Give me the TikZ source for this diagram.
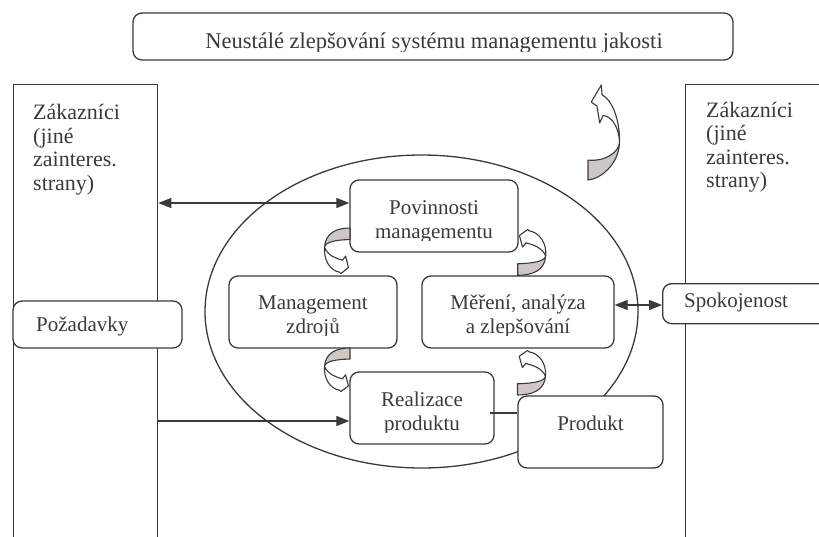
\documentclass[tikz,border=0pt]{standalone}
\usepackage{fontspec}
\setmainfont{Liberation Serif}
\usetikzlibrary{arrows.meta,shapes.geometric}
\definecolor{ink}{RGB}{58,58,58}
\definecolor{backside}{RGB}{205,199,197}

\tikzset{
  box/.style={draw=ink, line width=1.3pt, fill=white, rounded corners=9pt, inner sep=0pt},
  frame/.style={draw=ink, line width=1.3pt, inner sep=0pt, anchor=north west},
  txt/.style={text=ink, font=\fontsize{21}{24}\selectfont, inner sep=0pt, anchor=base},
  side/.style={text=ink, font=\fontsize{22}{24}\selectfont, inner sep=0pt, anchor=base west},
  link/.style={draw=ink, line width=1.2pt},
  head/.style={-{Triangle[length=13pt,width=10pt]}},
  heads/.style={{Triangle[length=13pt,width=10pt]}-{Triangle[length=13pt,width=10pt]}},
  ribbon/.style={draw=ink, line width=1.1pt, line join=round},
  % tall curved ribbon arrow in a unit box: tail at (0,0), head at the top
  curl/.pic={
    \filldraw[ribbon, fill=backside]
      (0.984,-0.40) .. controls (0.984,-0.295) and (0.53,-0.19) .. (0,-0.21)
      -- (0,0) .. controls (0.375,-0.01) and (0.97,-0.16) .. cycle;
    \filldraw[ribbon, fill=white]
      (0.984,-0.40) .. controls (1.0,-0.63) and (0.75,-0.85) .. (0.44,-0.895)
      -- (0.415,-1.0) -- (0.10,-0.82) -- (0.28,-0.78) -- (0.365,-0.60) -- (0.47,-0.68)
      .. controls (0.75,-0.67) and (0.97,-0.55) .. cycle;
  },
  % short curved ribbon arrow, head turned back towards the tail side
  twist/.pic={
    \filldraw[ribbon, fill=backside]
      (0.98,-0.42) .. controls (0.95,-0.30) and (0.55,-0.26) .. (0,-0.25)
      -- (0,0) .. controls (0.5,0) and (0.95,-0.10) .. cycle;
    \filldraw[ribbon, fill=white]
      (0.98,-0.42) .. controls (1.02,-0.70) and (0.75,-0.93) .. (0.40,-0.96)
      -- (0.35,-0.99) -- (0.06,-0.86) -- (0.17,-0.61) -- (0.29,-0.70)
      .. controls (0.55,-0.66) and (0.85,-0.60) .. cycle;
  }
}

\begin{document}
\begin{tikzpicture}[x=1pt, y=-1pt]
\clip (0,0) rectangle (819,536);

% customers on both sides
\node[frame, minimum width=144pt, minimum height=480pt] (custL) at (13,84) {};
\node[frame, minimum width=160pt, minimum height=480pt] (custR) at (685,84) {};
\node[side] (cl1) at (33,119.5) {Zákazníci};
\node[side] (cl2) at (33,143) {(jiné};
\node[side] (cl3) at (33,166.5) {zainteres.};
\node[side] (cl4) at (33,190) {strany)};
\node[side] (cr1) at (706,117) {Zákazníci};
\node[side] (cr2) at (706,140.5) {(jiné};
\node[side] (cr3) at (706,164) {zainteres.};
\node[side] (cr4) at (706,187.5) {strany)};

% process cycle
\node[draw=ink, line width=1.3pt, ellipse, minimum width=433pt, minimum height=313pt, inner sep=0pt] (cycle) at (421.5,311.5) {};

% boxes
\node[box, minimum width=600pt, minimum height=47pt] (top) at (433,36.5) {};
\node[box, minimum width=169pt, minimum height=47pt] (req) at (97.5,324.5) {};
\node[box, minimum width=180pt, minimum height=40pt, anchor=north west] (sat) at (662,283) {};
\node[box, minimum width=168pt, minimum height=72pt] (pov) at (434,216) {};
\node[box, minimum width=168pt, minimum height=72pt] (res) at (313,312) {};
\node[box, minimum width=192pt, minimum height=72pt] (mer) at (518,312) {};
\node[box, minimum width=144pt, minimum height=72pt] (real) at (422,408) {};
\node[box, minimum width=145pt, minimum height=72pt] (prod) at (590.5,432) {};

% connectors
\coordinate (yPov) at (0,203);
\coordinate (yReal) at (0,421);
\coordinate (ySat) at (0,305);
\coordinate (yProd) at (490,413);
\draw[link, heads] (custL.east |- yPov) -- (pov.west |- yPov);
\draw[link, head] (custL.east |- yReal) -- (real.west |- yReal);
\draw[link, heads] (mer.east |- ySat) -- (sat.west |- ySat);
\draw[link] (yProd) -- (yProd -| prod.west);

% labels
\node[txt] (reqT) at (36,331) [anchor=base west] {Požadavky};
\node[txt] (satT) at (684,307) [anchor=base west] {Spokojenost};
\node[txt] (prodT) at (590.5,430) {Produkt};
\begin{scope}
  \clip (130,0) rectangle (740,51);
  \node[txt, font=\fontsize{22.5}{26}\selectfont] (topT) at (434,48) {Neustálé zlepšování systému managementu jakosti};
\end{scope}
\begin{scope}
  \clip (340,180) rectangle (530,240.5);
  \node[txt] (pov1) at (434,214) {Povinnosti};
  \node[txt] (pov2) at (434,238) {managementu};
\end{scope}
\begin{scope}
  \clip (220,276) rectangle (620,335.5);
  \node[txt] (res1) at (313,309) {Management};
  \node[txt] (res2) at (313,333) {zdrojů};
  \node[txt] (mer1) at (518,309) {Měření, analýza};
  \node[txt] (mer2) at (518,333) {a zlepšování};
\end{scope}
\begin{scope}
  \clip (340,372) rectangle (500,432);
  \node[txt] (real1) at (422,406) {Realizace};
  \node[txt] (real2) at (422,430) {produktu};
\end{scope}

% curved arrows
\pic[xscale=32, yscale=95] at (588,180) {curl};
\pic[xscale=-26, yscale=-46] at (350,228) {twist};
\pic[xscale=-26, yscale=-44] at (350,348) {twist};
\pic[xscale=28.6, yscale=46.3] at (517.7,275.3) {twist};
\pic[xscale=28.6, yscale=45] at (517.5,395) {twist};
\end{tikzpicture}
\end{document}
